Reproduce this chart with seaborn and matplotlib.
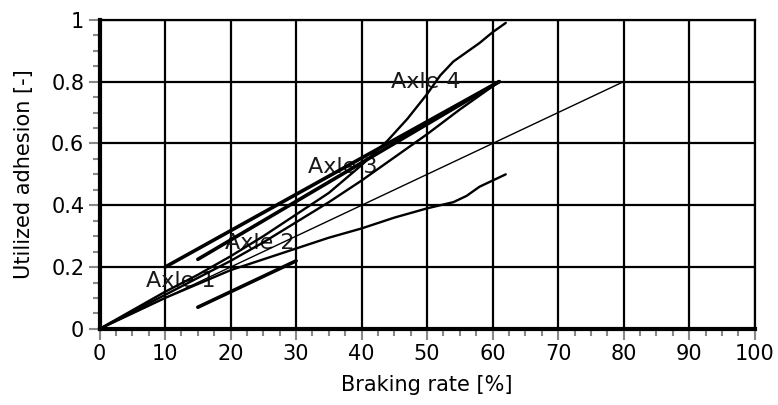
import numpy as np
import pandas as pd
import matplotlib
matplotlib.use('Agg')
import matplotlib.pyplot as plt
from matplotlib.ticker import MultipleLocator
import seaborn as sns

# measured curves (braking rate %, utilized adhesion)
axle4_x = [0, 5, 10, 15, 20, 25, 30, 35, 40, 44, 47, 50, 52, 54, 56, 58, 60, 62]
axle4_y = [0, 0.06, 0.12, 0.175, 0.235, 0.3, 0.37, 0.44, 0.53, 0.61, 0.68, 0.76, 0.82, 0.865, 0.895, 0.925, 0.96, 0.99]
axle3_x = [0, 5, 10, 15, 20, 25, 30, 35, 40, 45, 50, 55, 61]
axle3_y = [0, 0.055, 0.11, 0.165, 0.22, 0.28, 0.345, 0.41, 0.48, 0.555, 0.63, 0.71, 0.8]
axle1_x = [0, 5, 10, 15, 20, 25, 30, 35, 40, 45, 50, 54, 56, 58, 60, 62]
axle1_y = [0, 0.05, 0.1, 0.145, 0.19, 0.225, 0.26, 0.295, 0.325, 0.36, 0.39, 0.41, 0.43, 0.46, 0.48, 0.5]

# straight reference lines
ideal_x = [0, 80]
ideal_y = [0, 0.8]
thick_lines = [
    ([10, 61], [0.2, 0.8]),
    ([15, 61], [0.225, 0.8]),
    ([15, 30], [0.07, 0.22]),
]

labels = ['Axle 1', 'Axle 2', 'Axle 3', 'Axle 4']
label_x = [12.4, 24.5, 37.1, 49.8]
label_y = [0.156, 0.279, 0.525, 0.80]

sns.set_style('white')
plt.rcParams['font.family'] = ['DejaVu Sans']
plt.rcParams['text.color'] = 'black'
plt.rcParams['axes.labelcolor'] = 'black'
plt.rcParams['xtick.labelcolor'] = 'black'
plt.rcParams['ytick.labelcolor'] = 'black'

fig = plt.figure(figsize=(7.78, 4.05), dpi=100)
ax = fig.add_axes([0.128, 0.188, 0.842, 0.763])

for i in range(len(labels)):
    ax.text(label_x[i], label_y[i], labels[i], fontsize=16, color='#1a1a1a',
            ha='center', va='center', zorder=2)

sns.lineplot(x=ideal_x, y=ideal_y, ax=ax, color='black', lw=1.0, zorder=3)
for xs, ys in thick_lines:
    sns.lineplot(x=xs, y=ys, ax=ax, color='black', lw=2.6, zorder=3)
for xs, ys in [(axle4_x, axle4_y), (axle3_x, axle3_y), (axle1_x, axle1_y)]:
    sns.lineplot(x=xs, y=ys, ax=ax, color='black', lw=1.7, sort=False,
                 estimator=None, zorder=3)

ax.set_xlim(0, 100)
ax.set_ylim(0, 1)
ax.xaxis.set_major_locator(MultipleLocator(10))
ax.xaxis.set_minor_locator(MultipleLocator(2.5))
ax.yaxis.set_major_locator(MultipleLocator(0.2))
ax.yaxis.set_minor_locator(MultipleLocator(0.05))
ax.set_yticks([0, 0.2, 0.4, 0.6, 0.8, 1.0])
ax.set_yticklabels(['0', '0.2', '0.4', '0.6', '0.8', '1'])
ax.grid(True, which='major', color='black', lw=1.6)
ax.set_axisbelow(True)

ax.tick_params(which='major', direction='out', length=8, width=1.5, color='#888888',
               labelsize=15, pad=3, bottom=True, left=True)
ax.tick_params(which='minor', direction='out', length=5, width=1.5, color='#888888',
               bottom=True, left=True)

for s in ['left', 'bottom']:
    ax.spines[s].set_color('black')
    ax.spines[s].set_linewidth(3)
for s in ['top', 'right']:
    ax.spines[s].set_color('black')
    ax.spines[s].set_linewidth(1.6)

ax.set_xlabel('Braking rate [%]', fontsize=15, labelpad=8)
ax.set_ylabel('Utilized adhesion [-]', fontsize=15, labelpad=12)

fig.savefig('out.png', dpi=100)
